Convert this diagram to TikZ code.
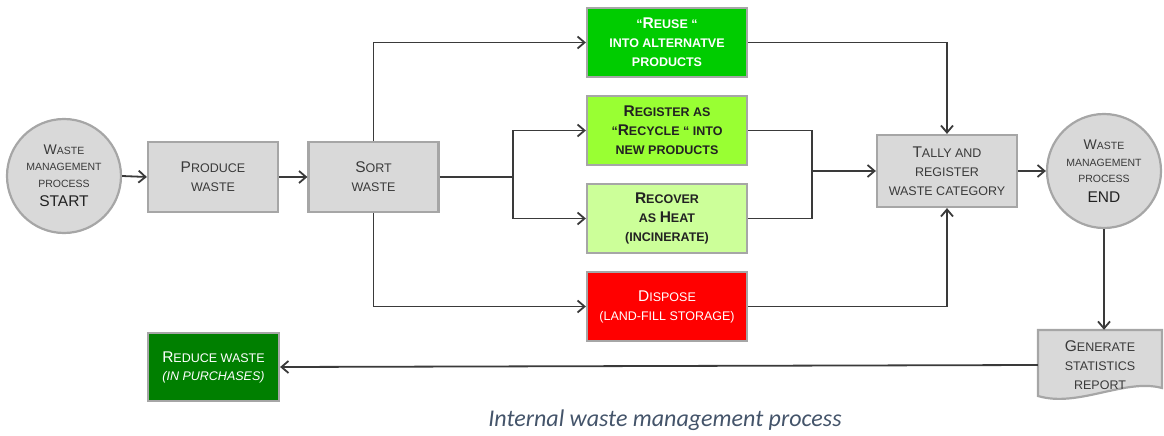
\documentclass[tikz,border=0pt]{standalone}
\usepackage{fontspec}
\setmainfont{Liberation Sans}
\newfontfamily\capfont{Carlito}
\usetikzlibrary{arrows.meta}
\definecolor{boxgray}{HTML}{D9D9D9}
\definecolor{edgegray}{HTML}{A6A6A6}
\definecolor{txtgray}{HTML}{3A3A3A}
\definecolor{darktxt}{HTML}{222222}
\definecolor{linegray}{HTML}{3A3A3A}
\definecolor{reusegreen}{HTML}{00CC00}
\definecolor{recyclegreen}{HTML}{99FF33}
\definecolor{recovergreen}{HTML}{CCFF99}
\definecolor{disposered}{HTML}{FF0000}
\definecolor{reducegreen}{HTML}{007F00}
\definecolor{captxt}{HTML}{44546A}
\newcommand\Cp[1]{{\fontsize{15.5}{19}\selectfont #1}}
\newcommand\Cc[1]{{\fontsize{14}{16}\selectfont #1}}
\begin{document}
\begin{tikzpicture}[x=1pt,y=-1pt,
  box/.style={rectangle, draw=edgegray, line width=2.2pt, fill=boxgray, text=txtgray,
    inner sep=0pt, align=center, font=\fontsize{12.5}{19}\selectfont},
  wide/.style={box, minimum width=160pt, minimum height=69pt},
  small/.style={box, minimum width=130pt, minimum height=70pt},
  circ/.style={circle, draw=edgegray, line width=2.2pt, fill=boxgray, text=txtgray,
    minimum size=114pt, inner sep=0pt, align=center, font=\fontsize{10.5}{16.5}\selectfont},
  conn/.style={draw=linegray, line width=1.8pt, -{Straight Barb[length=7pt,width=12pt]}},
  plain/.style={draw=linegray, line width=1.8pt}
]
\useasboundingbox (0,0) rectangle (1164,436);

% start / end circles
\node[circ] (start) at (64,176) {\Cc{W}ASTE\\MANAGEMENT\\PROCESS\\[3pt]{\fontsize{15.5}{16}\selectfont\color{darktxt}START}};
\node[circ] (endc) at (1104,171) {\Cc{W}ASTE\\MANAGEMENT\\PROCESS\\[3pt]{\fontsize{15.5}{16}\selectfont\color{darktxt}END}};

% process boxes
\node[small] (produce) at (213,177) {\Cp{P}RODUCE\\WASTE};
\node[small] (sort) at (373.5,177) {\Cp{S}ORT\\WASTE};

\node[wide, fill=reusegreen, text=white, font=\bfseries\fontsize{12.5}{19}\selectfont] (reuse) at (667,42.5)
  {“\Cp{R}EUSE “\\INTO ALTERNATVE\\PRODUCTS};
\node[wide, fill=recyclegreen, text=darktxt, font=\bfseries\fontsize{12.5}{19}\selectfont] (recycle) at (667,130.5)
  {\Cp{R}EGISTER AS\\“\Cp{R}ECYCLE “ INTO\\NEW PRODUCTS};
\node[wide, fill=recovergreen, text=darktxt, font=\bfseries\fontsize{12.5}{19}\selectfont] (recover) at (667,218.5)
  {\Cp{R}ECOVER\\AS \Cp{H}EAT\\(INCINERATE)};
\node[wide, fill=disposered, text=white] (dispose) at (667,306.5)
  {\Cp{D}ISPOSE\\(LAND-FILL STORAGE)};

\node[box, minimum width=140pt, minimum height=72pt] (tally) at (947,171)
  {\Cp{T}ALLY AND\\REGISTER\\WASTE CATEGORY};

% report (document shape)
\path[fill=boxgray, draw=edgegray, line width=2.2pt]
  (1038,330) -- (1162,330) -- (1162,388)
  .. controls (1125,378) and (1078,408) .. (1038,396) -- cycle;
\node[rectangle, inner sep=0pt, minimum width=124pt, minimum height=70pt, text=txtgray,
  align=center, font=\fontsize{12.5}{19}\selectfont] (rep) at (1100,365)
  {\Cp{G}ENERATE\\STATISTICS\\REPORT};

\node[box, fill=reducegreen, text=white, minimum width=131pt, minimum height=68pt,
  font=\fontsize{12.5}{18}\selectfont] (reduce) at (213.5,367)
  {\Cp{R}EDUCE WASTE\\\textit{(IN PURCHASES)}};

% connectors
\draw[conn] (start.east) -- (produce.west);
\draw[conn] (produce.east) -- (sort.west);
\draw[conn] (sort.north) |- (reuse.west);
\draw[conn] (sort.south) |- (dispose.west);
\coordinate (b1) at (513,177);
\draw[plain] (sort.east) -- (b1);
\draw[conn] (b1) |- (recycle.west);
\draw[conn] (b1) |- (recover.west);
\coordinate (b2) at (812,171);
\draw[plain] (recycle.east) -| (b2);
\draw[plain] (recover.east) -| (b2);
\draw[conn] (b2) -- (tally.west);
\draw[conn] (reuse.east) -| (tally.north);
\draw[conn] (dispose.east) -| (tally.south);
\draw[conn] (tally.east) -- (endc.west);
\draw[conn] (endc.south) -- (endc.south |- rep.north);
\draw[conn] (rep.west) -- (reduce.east);

% caption
\node[text=captxt, font=\capfont\itshape\fontsize{24}{28}\selectfont, inner sep=0pt] (cap) at (665,420)
  {Internal waste management process};
\end{tikzpicture}
\end{document}
